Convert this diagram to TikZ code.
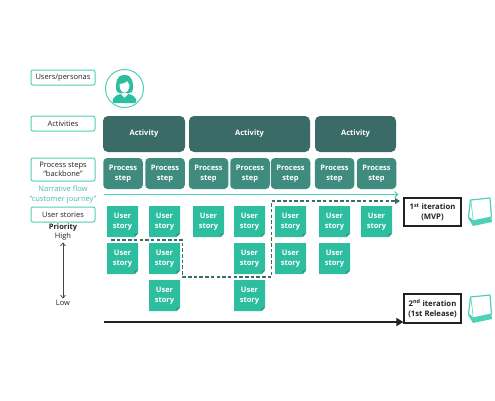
\documentclass[tikz,border=0pt]{standalone}
\usepackage{fontspec}
\setmainfont{Open Sans}
\usetikzlibrary{arrows.meta,calc}
\definecolor{actc}{HTML}{3B6B66}
\definecolor{procc}{HTML}{3F8C7E}
\definecolor{storyc}{HTML}{2DBD9F}
\definecolor{edgec}{HTML}{4FD0B8}
\definecolor{darkc}{HTML}{222222}
\tikzset{
  x=1pt,y=-1pt,
  every node/.style={font=\fontsize{7.5}{9.5}\selectfont,align=center,inner sep=0pt,text=darkc},
  labelbox/.style={draw=edgec,line width=1pt,rounded corners=2pt,fill=white},
  activitybox/.style={fill=actc,rounded corners=5pt,text=white,font=\fontsize{7.5}{9.5}\selectfont\bfseries},
  procbox/.style={fill=procc,rounded corners=4pt,text=white,font=\fontsize{7.5}{9.5}\selectfont\bfseries},
  iterbox/.style={draw=darkc,line width=1.2pt,fill=white,font=\fontsize{7.7}{9.4}\selectfont\bfseries},
  sheet/.style={draw=edgec,line width=1.2pt,fill=white,line join=round},
}
\newcommand{\story}[3]{%
  \fill[storyc] (#1,#2) -- ++(31,0) -- ++(0,27.5) -- ++(-3.5,3.5) -- ++(-27.5,0) -- cycle;
  \fill[procc] (#1+31,#2+27.5) -- ++(-3.5,0) -- ++(0,3.5) -- cycle;
  \node[text=white,font=\fontsize{7.5}{9.5}\selectfont\bfseries] (#3) at (#1+15.5,#2+15.5) {User\\story};}
\newcommand{\stack}[2]{%
  \begin{scope}[shift={(#1,#2)}]
    \fill[edgec] (0,20) -- (5,28) -- (24,24) -- (23,17) -- cycle;
    \draw[sheet] (2.5,2) -- (22,0) -- (23.5,19) -- (5,23) -- cycle;
    \draw[sheet] (2.5,2) -- (0.5,19) -- (5,23);
  \end{scope}}
\begin{document}
\begin{tikzpicture}
\useasboundingbox (0,0) rectangle (495,400);
% left labels
\node[labelbox,minimum width=64,minimum height=15] (lu) at (63,77.5) {Users/personas};
\node[labelbox,minimum width=64,minimum height=15] (la) at (63,123.5) {Activities};
\node[labelbox,minimum width=64,minimum height=23] (lp) at (63,169.5) {Process steps\\``backbone''};
\node[text=edgec!90!black] (nf) at (63,194.5) {Narrative flow\\``customer journey''};
\node[labelbox,minimum width=64,minimum height=15] (ls) at (63,214.5) {User stories};
\node[font=\fontsize{7.5}{9.5}\selectfont\bfseries] (pri) at (63,228) {Priority};
\node (hi) at (63,237) {High};
\node (lo) at (63,303) {Low};
\draw[{Straight Barb[length=3pt,width=5pt]}-{Straight Barb[length=3pt,width=5pt]},line width=0.7pt,draw=darkc!85] ([yshift=-1.5pt]hi.south) -- ([yshift=1.5pt]lo.north);
% avatar
\node[circle,draw=edgec,line width=1pt,fill=white,minimum size=38] (av) at (124.5,88.5) {};
\begin{scope}
  \clip (124.5,88.5) circle (18);
  \fill[storyc] (112.5,103) .. controls (112.5,96) and (117,94.5) .. (124.5,93) .. controls (132,94.5) and (136.5,96) .. (136.5,103) -- cycle;
  \fill[storyc] (124.5,75) .. controls (115.5,75) and (116,84) .. (116,89) .. controls (116,92) and (118,93) .. (120,93) -- (129,93) .. controls (131,93) and (133,92) .. (133,89) .. controls (133,84) and (133.5,75) .. (124.5,75) -- cycle;
  \fill[white] (119.5,84) .. controls (122,84) and (126,83) .. (127,81) .. controls (128,83) and (129,84) .. (129.5,85) .. controls (129.5,90) and (127,92.5) .. (124.5,92.5) .. controls (122,92.5) and (119.5,90) .. (119.5,84) -- cycle;
  \fill[white] (121,94) -- (124.5,97.5) -- (128,94) -- (124.5,92.5) -- cycle;
\end{scope}
% activities
\node[activitybox,minimum width=82,minimum height=36] (a1) at (144,134) {Activity};
\node[activitybox,minimum width=121,minimum height=36] (a2) at (249.5,134) {Activity};
\node[activitybox,minimum width=81,minimum height=36] (a3) at (355.5,134) {Activity};
% process steps
\foreach \n/\x in {p1/123,p2/165,p3/208.5,p4/250,p5/290.5,p6/334.5,p7/376.5}
  \node[procbox,minimum width=39.5,minimum height=31] (\n) at (\x,173.5) {Process\\step};
% stories
\story{107}{206}{s11}\story{149}{206}{s12}\story{193}{206}{s13}\story{234}{206}{s14}\story{275}{206}{s15}\story{319}{206}{s16}\story{361}{206}{s17}
\story{107}{243}{s21}\story{149}{243}{s22}\story{234}{243}{s24}\story{275}{243}{s25}\story{319}{243}{s26}
\story{149}{280}{s32}\story{234}{280}{s34}
% iteration boxes
\node[iterbox,minimum width=57,minimum height=28] (i1) at (432.5,212) {1\textsuperscript{st} iteration\\(MVP)};
\node[iterbox,minimum width=57,minimum height=29] (i2) at (432.5,308.5) {2\textsuperscript{nd} iteration\\(1st Release)};
% flow lines
\coordinate (ns) at (104,194.5); \coordinate (ne) at (398.5,194.5);
\draw[edgec,line width=1.1pt,-{Straight Barb[length=3pt,width=6pt]}] (ns) -- (ne);
\coordinate (d0) at (111,240); \coordinate (d1) at (182.5,240); \coordinate (d2) at (182.5,277);
\coordinate (d3) at (271.5,277); \coordinate (d4) at (271.5,201); \coordinate (d5) at (400,201);
\draw[actc,line width=1.5pt,dash pattern=on 3.5pt off 2.2pt,-{Triangle[length=5pt,width=6pt]}] (d0) -- (d1) -- (d2) -- (d3) -- (d4) -- (d5);
\coordinate (bs) at (104,322);
\draw[darkc,line width=1.5pt,-{Triangle[length=7pt,width=8pt]}] (bs) -- (i2.west |- bs);
% stacks
\stack{468}{198}
\stack{468}{295}
\end{tikzpicture}
\end{document}
